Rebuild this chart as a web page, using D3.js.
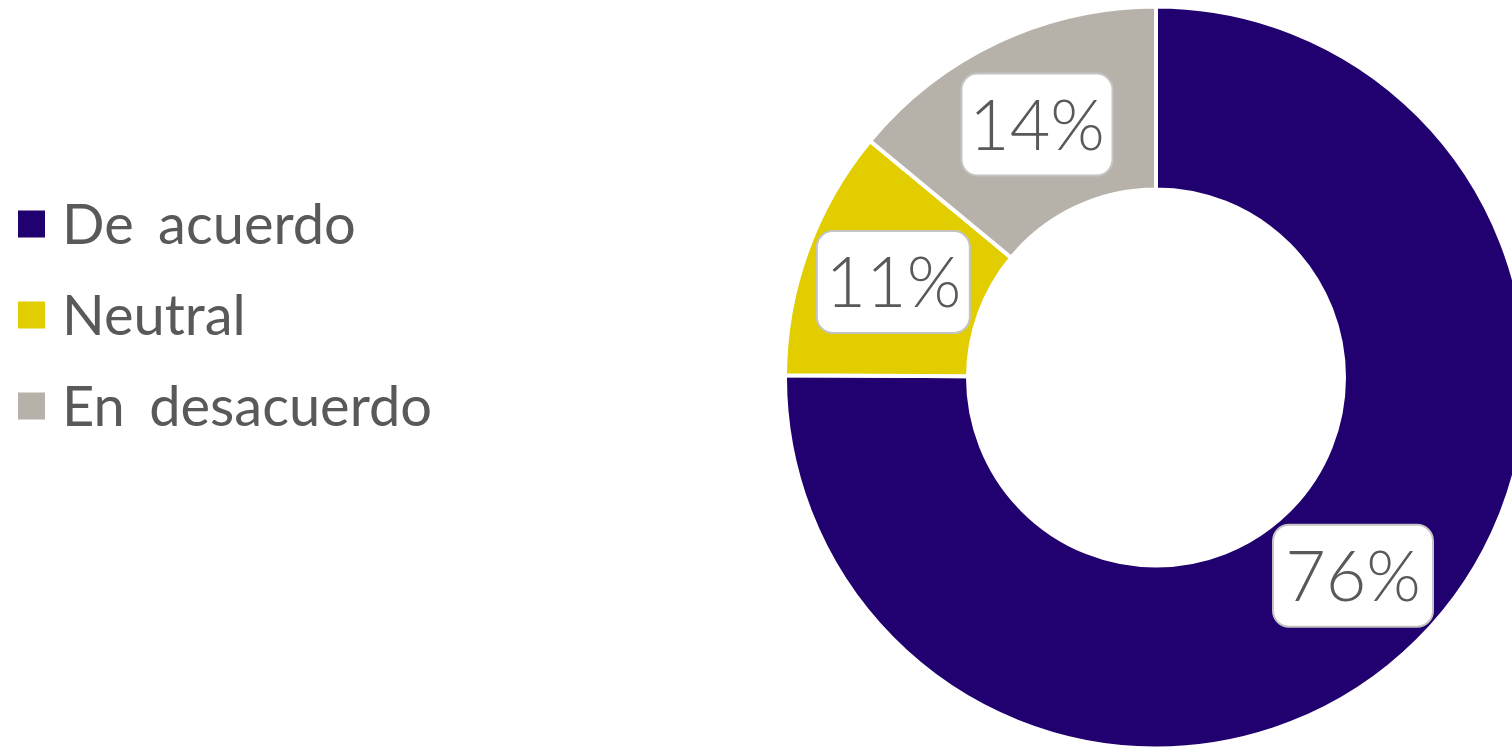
<!DOCTYPE html>
<html><head><meta charset="utf-8">
<script src="https://cdn.jsdelivr.net/npm/d3@7"></script>
<style>html,body{margin:0;padding:0;background:#fff;overflow:hidden}</style>
</head><body>
<svg id="c" width="1512" height="748"></svg>
<script>
const categories = ["De acuerdo", "Neutral", "En desacuerdo"];
const values = [75.1, 10.9, 14.0];
const labels = ["76%", "11%", "14%"];
const colors = ["#21006f", "#e1cd00", "#b6b2aa"];

const svg = d3.select("#c");
const cx = 1156, cy = 377.5, rOuter = 371, rInner = 188;

const pie = d3.pie().sort(null).value(d => d)(values);
const arc = d3.arc().innerRadius(rInner).outerRadius(rOuter);
const g = svg.append("g").attr("transform", `translate(${cx},${cy})`);
g.selectAll("path.slice").data(pie).join("path")
  .attr("class", "slice")
  .attr("d", arc)
  .attr("fill", (d, i) => colors[i])
  .attr("stroke", "#fff").attr("stroke-width", 4);

const lab = g.selectAll("g.lab").data(pie).join("g")
  .attr("class", "lab")
  .attr("transform", d => `translate(${arc.centroid(d)})`);
const bw = [160, 153, 151];
lab.append("rect")
  .attr("x", (d, i) => -bw[i] / 2).attr("y", -51)
  .attr("width", (d, i) => bw[i]).attr("height", 102)
  .attr("rx", 16).attr("ry", 16)
  .attr("fill", "#fff").attr("stroke", "#c4c4c4").attr("stroke-width", 2);
lab.append("text")
  .attr("text-anchor", "middle").attr("dy", "0.36em")
  .attr("font-family", "Lato, sans-serif").attr("font-size", 70).attr("font-weight", 300)
  .attr("fill", "#595959")
  .text((d, i) => labels[i]);

const leg = svg.append("g");
const rows = leg.selectAll("g").data(categories).join("g")
  .attr("transform", (d, i) => `translate(18,${224 + i * 91})`);
rows.append("rect").attr("x", 0).attr("y", -13.5).attr("width", 27).attr("height", 27)
  .attr("fill", (d, i) => colors[i]);
rows.append("text").attr("x", 44).attr("dy", "0.36em")
  .attr("font-family", "Lato, sans-serif").attr("font-size", 56)
  .attr("word-spacing", 10)
  .attr("fill", "#595959").text(d => d);
</script>
</body></html>
